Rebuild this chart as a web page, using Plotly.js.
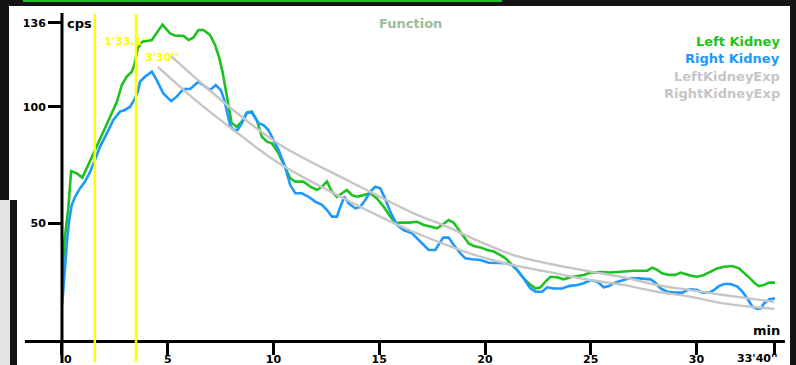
<!DOCTYPE html>
<html>
<head>
<meta charset="utf-8">
<script src="https://cdn.plot.ly/plotly-3.0.1.min.js"></script>
<style>
  html, body { margin: 0; padding: 0; background: #ffffff; }
  #wrap { position: relative; width: 796px; height: 365px; overflow: hidden; }
  #chart { position: absolute; left: 0; top: 0; width: 796px; height: 365px; }
  .frame { position: absolute; background: #141414; z-index: 5; }
</style>
</head>
<body>
<div id="wrap">
  <div id="chart"></div>
  <div class="frame" style="left:0;top:0;width:796px;height:6px;"></div>
  <div class="frame" style="left:23px;top:0;width:479px;height:2px;background:#1fbf1f;"></div>
  <div class="frame" style="left:0;top:0;width:9px;height:200px;"></div>
  <div class="frame" style="left:0;top:200px;width:10px;height:165px;background:#e4e4e4;"></div>
  <div class="frame" style="left:10px;top:200px;width:7px;height:165px;"></div>
  <div class="frame" style="left:790px;top:0;width:6px;height:365px;"></div>
</div>
<script>
// ---- data (minutes, counts per second) ----
var leftTime = [0.01,0.11,0.30,0.43,0.70,0.96,1.24,1.53,1.88,2.27,2.59,2.83,3.06,3.30,3.42,3.58,3.80,4.25,4.48,4.75,5.11,5.35,5.74,5.98,6.21,6.45,6.69,7.00,7.24,7.43,7.59,7.73,7.86,8.02,8.26,8.50,8.74,8.98,9.21,9.45,9.69,9.92,10.24,10.55,10.79,11.03,11.42,11.74,12.05,12.29,12.53,12.76,13.00,13.24,13.47,13.71,13.95,14.26,14.58,14.89,15.21,15.52,15.76,16.00,16.39,16.79,17.10,17.42,17.73,17.97,18.28,18.52,18.76,18.99,19.23,19.47,19.78,20.10,20.41,20.73,20.97,21.20,21.52,21.83,22.15,22.39,22.62,22.86,23.09,23.41,23.72,24.04,24.36,24.67,24.99,25.46,25.93,26.49,27.04,27.67,27.91,28.14,28.38,28.69,29.01,29.25,29.48,29.72,30.04,30.35,30.67,30.98,31.30,31.69,32.01,32.24,32.53,32.80,32.95,33.19,33.43,33.71];
var leftKidney = [25,42,56.6,72.4,71.4,69.6,75,80.7,87.9,95,102,109.3,112.9,115,117.9,125,127.9,128.6,131.4,135.2,131.4,130.4,130.4,128.6,129.6,132.9,132.9,130.7,126.4,121,115,108,100,93,91.4,93.6,97.4,97.9,94.3,87.1,85,84.3,80,74.3,69.3,67.9,67.9,65.7,64.3,65.7,67.9,63.6,61.4,62.9,64.3,62.1,61.4,62.1,62.9,60.7,57.1,52.9,50,50.3,50.3,50.7,49.3,48.6,47.9,49.3,51.4,50.3,47.1,44.3,41.4,40.3,39.7,38.6,37.9,36.4,35,32.9,30,26.4,23.6,22.1,22.6,25,27.1,26.9,26,26.9,27.4,27.9,28.9,29.1,28.9,29.3,29.7,29.7,31,30,28.6,27.9,27.9,28.9,28.1,27.6,27.1,27.9,29.3,30.7,31.4,31.7,30.7,28.9,26.4,24,23.1,23.6,24.6,24.6];

var rightTime = [0.01,0.11,0.22,0.33,0.46,0.62,0.85,1.09,1.33,1.53,1.80,2.12,2.43,2.74,2.98,3.22,3.41,3.58,3.69,3.93,4.25,4.48,4.79,5.16,5.43,5.74,6.06,6.45,6.77,7.00,7.27,7.51,7.67,7.79,7.95,8.11,8.30,8.50,8.74,8.98,9.29,9.53,9.76,10.00,10.24,10.55,10.79,11.03,11.34,11.66,11.97,12.29,12.53,12.76,13.00,13.16,13.35,13.55,13.87,14.10,14.34,14.58,14.81,15.05,15.29,15.52,15.84,16.15,16.55,16.86,17.10,17.34,17.65,17.86,18.02,18.28,18.52,18.84,19.07,19.39,19.78,20.18,20.57,20.97,21.28,21.52,21.83,22.15,22.39,22.70,22.94,23.25,23.65,23.96,24.36,24.67,24.99,25.31,25.62,25.86,26.15,26.49,26.80,27.27,27.83,28.06,28.30,28.62,28.99,29.33,29.56,29.72,30.04,30.27,30.59,30.82,31.06,31.30,31.61,31.93,32.17,32.40,32.64,32.88,33.06,33.19,33.43,33.71];
var rightKidney = [15,29.3,40.7,50.7,57.9,61.4,65,67.9,72.1,76.4,82.9,88.6,94.3,97.9,98.6,100,102.9,106.4,110.7,112.9,115,111.4,105.7,102.4,104.3,107.6,107.6,110.7,108.6,107.1,109.3,107.1,102.9,98.6,92.1,90,90,92.9,97.4,97.4,92.9,92.1,90,85.7,81.4,74.3,66.4,62.9,62.9,61.4,59.3,57.9,55.7,52.9,52.9,57.1,61.4,58.6,56.4,57.1,60,63.6,65.7,65,60.3,55,49.3,47.1,45.7,42.9,40.7,38.6,38.6,41.4,43.9,43.9,40.7,37.1,35,34.6,34.3,33.1,32.9,32.9,32.1,30,26.4,22.1,20.7,20.7,22.6,22.1,22.1,23.1,23.6,24.3,25.6,25,22.6,23.1,24.6,25.4,26.4,26.4,26,24.6,22.1,20.7,20.3,20.3,21.4,21.7,21.4,20.3,20.3,21.4,23.1,24,24,22.9,20.7,17.9,14.3,13.3,13.6,15.7,17.4,17.9];

var leftExpTime = [5.16,6.53,8.19,10.32,13.47,16.63,18.19,19.77,21.34,22.92,25.46,26.54,28.12,29.69,31.27,33.68];
var leftKidneyExp = [121.7,110.6,97.9,83.6,68.6,54.3,48.6,42.1,36.4,32.9,28.6,26.9,23.6,21.4,19.3,16.4];

var rightExpTime = [4.53,6.53,8.11,10.32,13.47,15.04,16.61,18.19,19.77,21.34,22.92,24.96,26.54,28.12,29.69,31.27,33.68];
var rightKidneyExp = [117.1,101.2,90,75.4,60,52.9,46.4,40.7,35.7,32.1,29.3,25.7,23.6,20.7,18.6,15.7,13.3];

var markerTimes = [1.552, 3.5];
var markerLabels = ["1'33.1''", "3'30''"];

var endTime = 33.667;
var endLabel = "33'40''";
var xTickVals = [0, 5, 10, 15, 20, 25, 30, endTime];
var xTickText = ["\u00a0\u00a0\u00a00", "5", "10", "15", "20", "25", "30", ""];
var yTickVals = [50, 100, 136];
var yTickText = ["50", "100", "136"];

var seriesNames = ["Left Kidney", "Right Kidney", "LeftKidneyExp", "RightKidneyExp"];

// ---- styles ----
var GREEN = '#1ec21e', BLUE = '#1e98ff', GRAY = '#c6c6c6', YELLOW = '#ffff00';
var FONT = 'DejaVu Sans, Verdana, sans-serif';

var traces = [
  {x: leftTime, y: leftKidney, name: seriesNames[0], mode: 'lines', line: {color: GREEN, width: 2.6}},
  {x: rightTime, y: rightKidney, name: seriesNames[1], mode: 'lines', line: {color: BLUE, width: 2.6}},
  {x: leftExpTime, y: leftKidneyExp, name: seriesNames[2], mode: 'lines', line: {color: GRAY, width: 2.4, shape: 'spline'}},
  {x: rightExpTime, y: rightKidneyExp, name: seriesNames[3], mode: 'lines', line: {color: GRAY, width: 2.4, shape: 'spline'}}
];

var shapes = [];
markerTimes.forEach(function (t) {
  shapes.push({type: 'line', xref: 'x', yref: 'paper', x0: t, x1: t, y0: -0.068, y1: 0.997,
               line: {color: YELLOW, width: 2.5}});
});
// vertical axis line through t = 0, extending below the time axis
shapes.push({type: 'line', xref: 'x', yref: 'paper', x0: 0, x1: 0, y0: -0.07, y1: 1.0,
             line: {color: '#000000', width: 3}});

var annotations = [];
var legendColors = [GREEN, BLUE, GRAY, GRAY];
var legendY = [0.912, 0.860, 0.807, 0.755];
seriesNames.forEach(function (n, i) {
  annotations.push({xref: 'paper', yref: 'paper', x: 0.996, y: legendY[i], xanchor: 'right', yanchor: 'middle',
                    text: n, showarrow: false, font: {family: FONT, size: 13, weight: 'bold', color: legendColors[i]}});
});
markerTimes.forEach(function (t, i) {
  annotations.push({xref: 'x', yref: 'paper', x: t, y: [0.912, 0.865][i], xanchor: 'left', yanchor: 'middle',
                    xshift: 7, text: markerLabels[i], showarrow: false,
                    font: {family: FONT, size: 11, weight: 'bold', color: YELLOW}});
});
// end-of-acquisition tick label, kept inside the frame (right-aligned near its tick)
annotations.push({xref: 'x', yref: 'paper', x: endTime, y: -0.056, xanchor: 'right', yanchor: 'middle',
                  xshift: 6, text: endLabel, showarrow: false,
                  font: {family: FONT, size: 11, weight: 'bold', color: '#000'}});
annotations.push({xref: 'paper', yref: 'paper', x: 0.0526, y: 0.969, xanchor: 'left', yanchor: 'middle',
                  text: 'cps', showarrow: false, font: {family: FONT, size: 13, weight: 'bold', color: '#000'}});
annotations.push({xref: 'paper', yref: 'paper', x: 0.996, y: 0.030, xanchor: 'right', yanchor: 'middle',
                  text: 'min', showarrow: false, font: {family: FONT, size: 13, weight: 'bold', color: '#000'}});

var layout = {
  width: 796, height: 365,
  margin: {l: 25, r: 11, t: 13, b: 25, pad: 0},
  paper_bgcolor: '#ffffff', plot_bgcolor: '#ffffff',
  showlegend: false,
  title: {text: 'Function', x: 0.5075, xref: 'paper', xanchor: 'center', y: 0.937, yref: 'container', yanchor: 'middle',
          font: {family: FONT, size: 13, weight: 'bold', color: '#9abd9a'}},
  xaxis: {range: [-1.749, 34.184], showgrid: false, zeroline: false,
          showline: true, linecolor: '#000', linewidth: 3,
          ticks: 'outside', ticklen: 12, tickwidth: 3, tickcolor: '#000',
          ticklabelstandoff: -5,
          tickmode: 'array', tickvals: xTickVals, ticktext: xTickText,
          tickfont: {family: FONT, size: 11, weight: 'bold', color: '#000'}},
  yaxis: {range: [0, 140.16], showgrid: false, zeroline: false, showline: false,
          anchor: 'free', position: 0.0487, side: 'left',
          ticks: 'outside', ticklen: 14, tickwidth: 3, tickcolor: '#000',
          tickmode: 'array', tickvals: yTickVals, ticktext: yTickText,
          tickfont: {family: FONT, size: 11, weight: 'bold', color: '#000'}},
  shapes: shapes,
  annotations: annotations
};

Plotly.newPlot('chart', traces, layout, {displayModeBar: false, staticPlot: true});
</script>
</body>
</html>
